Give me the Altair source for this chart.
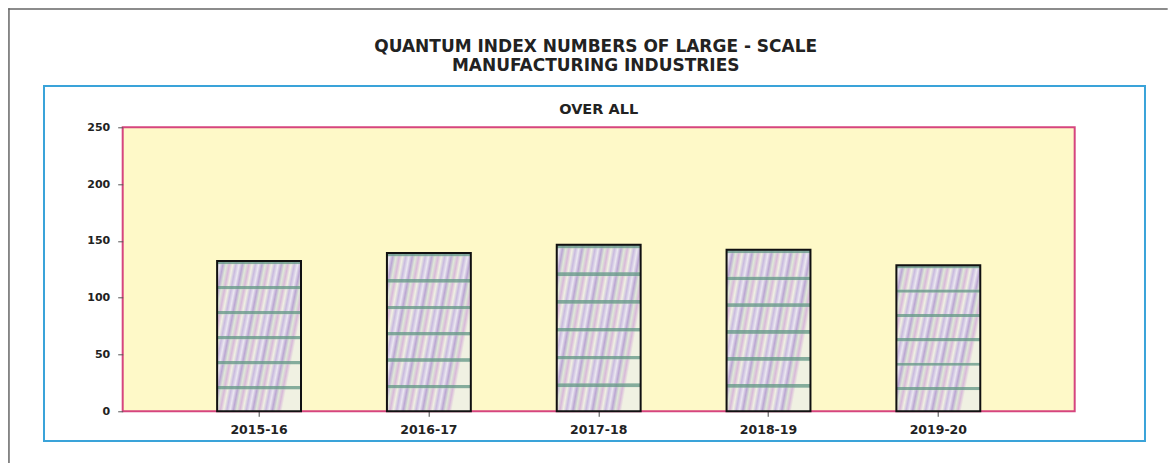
import altair as alt
import pandas as pd

# ---- data ----
years = ["2015-16", "2016-17", "2017-18", "2018-19", "2019-20"]
index_values = [132.4, 139.4, 146.6, 142.3, 128.6]

title_lines = ["QUANTUM INDEX NUMBERS OF LARGE - SCALE", "MANUFACTURING INDUSTRIES"]
subtitle_text = "OVER ALL"
y_ticks = [0, 50, 100, 150, 200, 250]

df = pd.DataFrame({"year": years, "value": index_values})

FONT = "DejaVu Sans"
PLOT_W = 952
PLOT_H = 284
PAD_L = 114.7
PAD_T = 119.3
PAD_R = 93
PAD_B = 52

# ---- texture-like fills for the bars ----
streak_cols = ["#c9badf", "#ebe8f0", "#bba6d3", "#dfe9d8", "#d8b9d9", "#f0f1e2"]
streak_stops = []
n_rep = 5
n_c = len(streak_cols)
for r in range(n_rep):
    for i, c in enumerate(streak_cols):
        streak_stops.append(alt.GradientStop(color=c, offset=round((r * n_c + i) / (n_rep * n_c - 1), 4)))
streak_fill = alt.Gradient(gradient="linear", stops=streak_stops, x1=0, y1=0, x2=1, y2=0.35)

band_stops = []
n_tiles = 6
for k in range(n_tiles):
    s = k / n_tiles
    band_stops += [
        alt.GradientStop(color="rgba(105,155,138,0.8)", offset=round(s, 4)),
        alt.GradientStop(color="rgba(105,155,138,0.8)", offset=round(s + 0.018, 4)),
        alt.GradientStop(color="rgba(230,235,220,0.0)", offset=round(s + 0.026, 4)),
        alt.GradientStop(color="rgba(230,235,220,0.0)", offset=round(s + 1 / n_tiles - 0.001, 4)),
    ]
band_fill = alt.Gradient(gradient="linear", stops=band_stops, x1=0, y1=0, x2=0, y2=1)

x_enc = alt.X(
    "year:N",
    sort=years,
    scale=alt.Scale(paddingInner=0.506, paddingOuter=0.556),
    axis=alt.Axis(
        title=None, labelAngle=0, domain=False, tickSize=5, tickColor="#444",
        tickWidth=1, labelFont=FONT, labelFontSize=12.5, labelFontWeight="bold",
        labelColor="#222", labelPadding=7,
    ),
)
y_enc = alt.Y(
    "value:Q",
    scale=alt.Scale(domain=[0, 250], nice=False),
    axis=alt.Axis(
        title=None, values=y_ticks, domain=False, grid=False, tickSize=5,
        tickColor="#555", labelFont=FONT, labelFontSize=11, labelFontWeight="bold",
        labelColor="#222", labelPadding=8,
    ),
)

base = alt.Chart(df)

bars_a = base.mark_bar(fill=streak_fill).encode(x=x_enc, y=y_enc)
bars_b = base.mark_bar(fill=band_fill).encode(x=x_enc, y=y_enc)
bars_c = base.mark_bar(fill="transparent", stroke="#111", strokeWidth=2).encode(x=x_enc, y=y_enc)

one = alt.Data(values=[{}])
# outer gray frame (only top and left edges fall inside the picture)
gray_top = alt.Chart(one).mark_rect(fill="#666", strokeWidth=0).encode(
    x=alt.value(-PAD_L + 0.2), x2=alt.value(PLOT_W + PAD_R),
    y=alt.value(-PAD_T + 0.2), y2=alt.value(-PAD_T + 1.7)
)
gray_left = alt.Chart(one).mark_rect(fill="#666", strokeWidth=0).encode(
    x=alt.value(-PAD_L + 0.2), x2=alt.value(-PAD_L + 1.7),
    y=alt.value(-PAD_T + 0.2), y2=alt.value(PLOT_H + PAD_B)
)
blue_box = alt.Chart(one).mark_rect(fill="transparent", stroke="#3aa3d9", strokeWidth=2).encode(
    x=alt.value(-78.7), x2=alt.value(1022.3), y=alt.value(-41.3), y2=alt.value(313.7)
)

title_style = dict(font=FONT, fontSize=17, fontWeight="bold", color="#222",
                   align="center", baseline="alphabetic")
t1 = alt.Chart(one).mark_text(text=title_lines[0], **title_style).encode(
    x=alt.value(PLOT_W / 2 - 3), y=alt.value(-75.5))
t2 = alt.Chart(one).mark_text(text=title_lines[1], **title_style).encode(
    x=alt.value(PLOT_W / 2 - 3), y=alt.value(-56.5))
t3 = alt.Chart(one).mark_text(text=subtitle_text, font=FONT, fontSize=14.5, fontWeight="bold",
                              color="#222", align="center", baseline="alphabetic").encode(
    x=alt.value(PLOT_W / 2), y=alt.value(-13.3))

chart = alt.layer(gray_top, gray_left, blue_box, t1, t2, t3, bars_a, bars_b, bars_c).properties(
    width=PLOT_W,
    height=PLOT_H,
    autosize=alt.AutoSizeParams(type="none"),
    padding={"left": PAD_L, "top": PAD_T, "right": PAD_R, "bottom": PAD_B},
).configure_view(
    fill="#fef9c8", stroke="#d6457e", strokeWidth=2
)

chart.save("out.html", embed_options={"renderer": "svg", "actions": False})
